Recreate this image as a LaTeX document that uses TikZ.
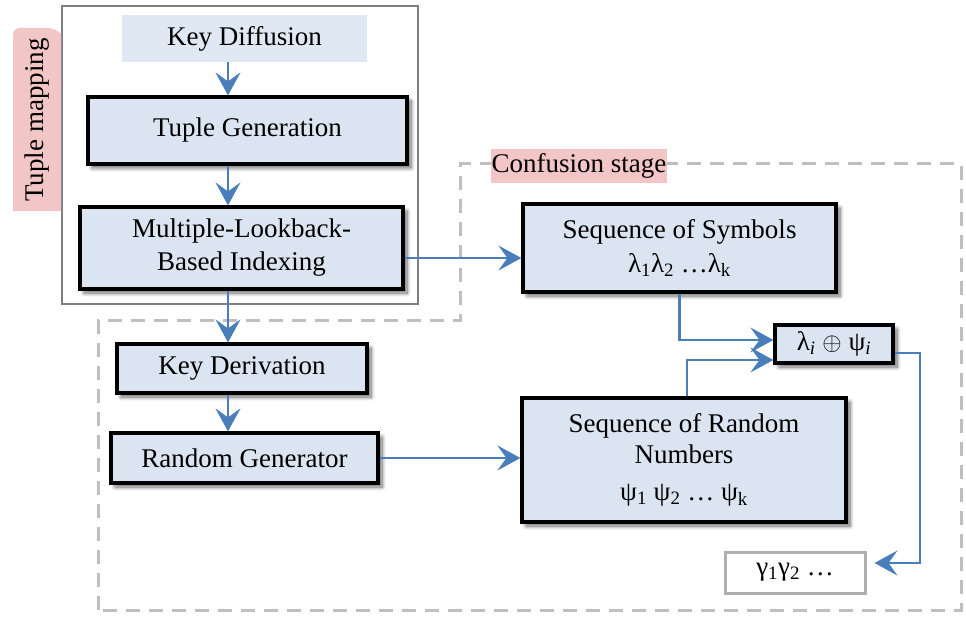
\documentclass[tikz,border=0pt]{standalone}
\usepackage{fontspec}
\setmainfont{Liberation Serif}
\usetikzlibrary{arrows.meta,shadows.blur}

\definecolor{boxfill}{RGB}{219,229,241}
\definecolor{flowblue}{RGB}{74,126,187}
\definecolor{tabpink}{RGB}{242,198,198}
\definecolor{dashgray}{RGB}{191,191,191}
\definecolor{framegray}{RGB}{128,128,128}
\definecolor{outgray}{RGB}{175,175,175}

\begin{document}
\begin{tikzpicture}[x=1pt,y=-1pt,
  every node/.style={font=\fontsize{27}{33}\selectfont, align=center, inner sep=0pt},
  stepbox/.style={draw=black, line width=3.2pt, fill=boxfill,
    blur shadow={shadow xshift=4pt, shadow yshift=-4pt, shadow opacity=60, shadow blur steps=8, shadow blur radius=4pt}},
  plainbox/.style={fill=boxfill!85!white},
  arr/.style={draw=flowblue, line width=2.2pt, -{Stealth[length=23pt,width=25pt,inset=9pt]}},
  stagedash/.style={draw=dashgray, line width=3pt, dash pattern=on 14pt off 9pt},
  tag/.style={fill=tabpink}
]
\useasboundingbox (0,0) rectangle (966,617);

% confusion stage region
\draw[stagedash] (98,610) -- (98,321) -- (460,321) -- (460,164) -- (961,164) -- (961,610) -- cycle;

% tuple mapping frame and tab
\draw[framegray, line width=2pt] (62,6) rectangle (418,304);
\fill[tag] (13,211) [rounded corners=7pt] -- (13,28) -- (55,28) [sharp corners] -- (61,34) -- (61,211) -- cycle;
\node[rotate=90] (tmlabel) at (37,120) {Tuple mapping};

% label of the confusion stage
\node[tag, minimum width=176pt, minimum height=34pt] (conflabel) at (579,166) {\raisebox{-5pt}{Confusion stage}};

% steps
\node[plainbox, minimum width=245pt, minimum height=47pt] (keyd) at (244.5,38.5) {Key Diffusion};
\node[stepbox, minimum width=319pt, minimum height=67pt] (tupgen) at (247.5,130.5) {Tuple Generation};
\node[stepbox, minimum width=323pt, minimum height=82pt] (mlbi) at (241.5,248) {Multiple-Lookback-\\Based Indexing};
\node[stepbox, minimum width=250pt, minimum height=49pt] (keyder) at (242,368.5) {Key Derivation};
\node[stepbox, minimum width=267pt, minimum height=50pt] (randgen) at (244.5,458) {Random Generator};
\node[stepbox, minimum width=313pt, minimum height=88pt] (seqsym) at (679.5,248)
  {Sequence of Symbols\\[1pt] λ\textsubscript{1}λ\textsubscript{2} …λ\textsubscript{k}};
\node[stepbox, minimum width=324pt, minimum height=124pt] (seqrand) at (684,460)
  {Sequence of Random\\[-2pt] Numbers\\[4pt] ψ\textsubscript{1} ψ\textsubscript{2} … ψ\textsubscript{k}};
\node[stepbox, minimum width=118pt, minimum height=38pt] (xorb) at (834,344)
  {λ\textsubscript{\textit{i}} $\oplus$ ψ\textsubscript{\textit{i}}};
\node[draw=outgray, line width=3pt, minimum width=140pt, minimum height=41pt] (gam) at (795,572.5)
  {\raisebox{-8pt}{γ\textsubscript{1}γ\textsubscript{2} …}};

% helper positions for connectors
\coordinate (spine) at (228,0);
\coordinate (ym) at (0,258);
\coordinate (ya) at (0,340);
\coordinate (yb) at (0,360);
\coordinate (xb) at (687,0);
\coordinate (xturn) at (920,0);
\coordinate (yout) at (0,353);
\coordinate (ygam) at (0,563);

% connectors
\draw[arr] (keyd.south -| spine) -- (tupgen.north -| spine);
\draw[arr] (tupgen.south -| spine) -- (mlbi.north -| spine);
\draw[arr] (mlbi.south -| spine) -- (keyder.north -| spine);
\draw[arr] (keyder.south -| spine) -- (randgen.north -| spine);
\draw[arr] (mlbi.east |- ym) -- (seqsym.west |- ym);
\draw[arr] (randgen.east) -- (seqrand.west |- randgen.east);
\draw[arr] (seqsym.south) |- (xorb.west |- ya);
\draw[arr] (seqrand.north -| xb) |- (xorb.west |- yb);
\draw[arr, shorten >=8pt] (xorb.east |- yout) -- (xturn |- yout) -- (xturn |- ygam) -- (gam.east |- ygam);
\end{tikzpicture}
\end{document}
